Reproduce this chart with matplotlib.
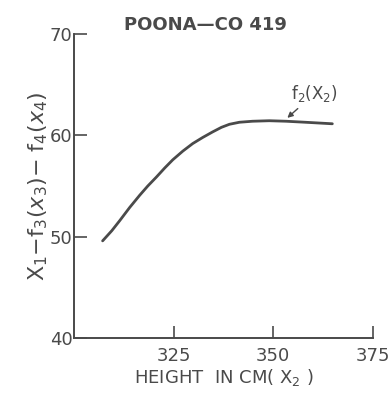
import matplotlib
matplotlib.use("Agg")
import matplotlib.pyplot as plt

# curve
height = [307.2, 309.5, 311.5, 314.0, 316.5, 318.5, 320.7, 322.8, 324.8, 327.3,
          329.8, 332.3, 334.8, 337.0, 339.0, 341.5, 344.8, 349.0, 353.2, 358.0, 364.8]
value = [49.6, 50.6, 51.6, 52.9, 54.1, 55.0, 55.9, 56.8, 57.6, 58.45,
         59.2, 59.8, 60.35, 60.8, 61.1, 61.3, 61.4, 61.45, 61.4, 61.3, 61.15]
xticks = [325, 350, 375]
yticks = [40, 50, 60, 70]

ink = "#4a4a4a"
plt.rcParams['font.family'] = ['DejaVu Sans']

fig = plt.figure(figsize=(3.91, 3.96), dpi=100)
ax = fig.add_axes([0.189, 0.146, 0.765, 0.768])

ax.plot(height, value, color=ink, lw=2.0, solid_capstyle='round', solid_joinstyle='round')

ax.set_xlim(300, 375)
ax.set_ylim(40, 70)
ax.set_xticks(xticks)
ax.set_yticks(yticks)
ax.spines['top'].set_visible(False)
ax.spines['right'].set_visible(False)
for s in ['left', 'bottom']:
    ax.spines[s].set_color(ink)
    ax.spines[s].set_linewidth(1.4)
ax.tick_params(axis='both', direction='in', length=9, width=1.2, color=ink,
               labelcolor=ink, labelsize=13)
ax.tick_params(axis='y', pad=1)
ax.tick_params(axis='x', pad=6)

ax.set_xlabel(r'HEIGHT  IN CM( X$_2$ )', color=ink, fontsize=13, labelpad=2)
ax.set_ylabel(r'X$_1$$-$f$_3$($x_3$)$-$ f$_4$($x_4$)', color=ink, fontsize=16, labelpad=0)
ax.set_title('POONA\u2014CO 419', color=ink, fontsize=13, fontweight='semibold', pad=2, x=0.44)

ax.annotate(r'f$_2$(X$_2$)', xy=(353.0, 61.55), xytext=(354.5, 63.6),
            color=ink, fontsize=12,
            arrowprops=dict(arrowstyle='-|>', color=ink, lw=1.0, mutation_scale=8))

fig.savefig("out.png", dpi=100)
